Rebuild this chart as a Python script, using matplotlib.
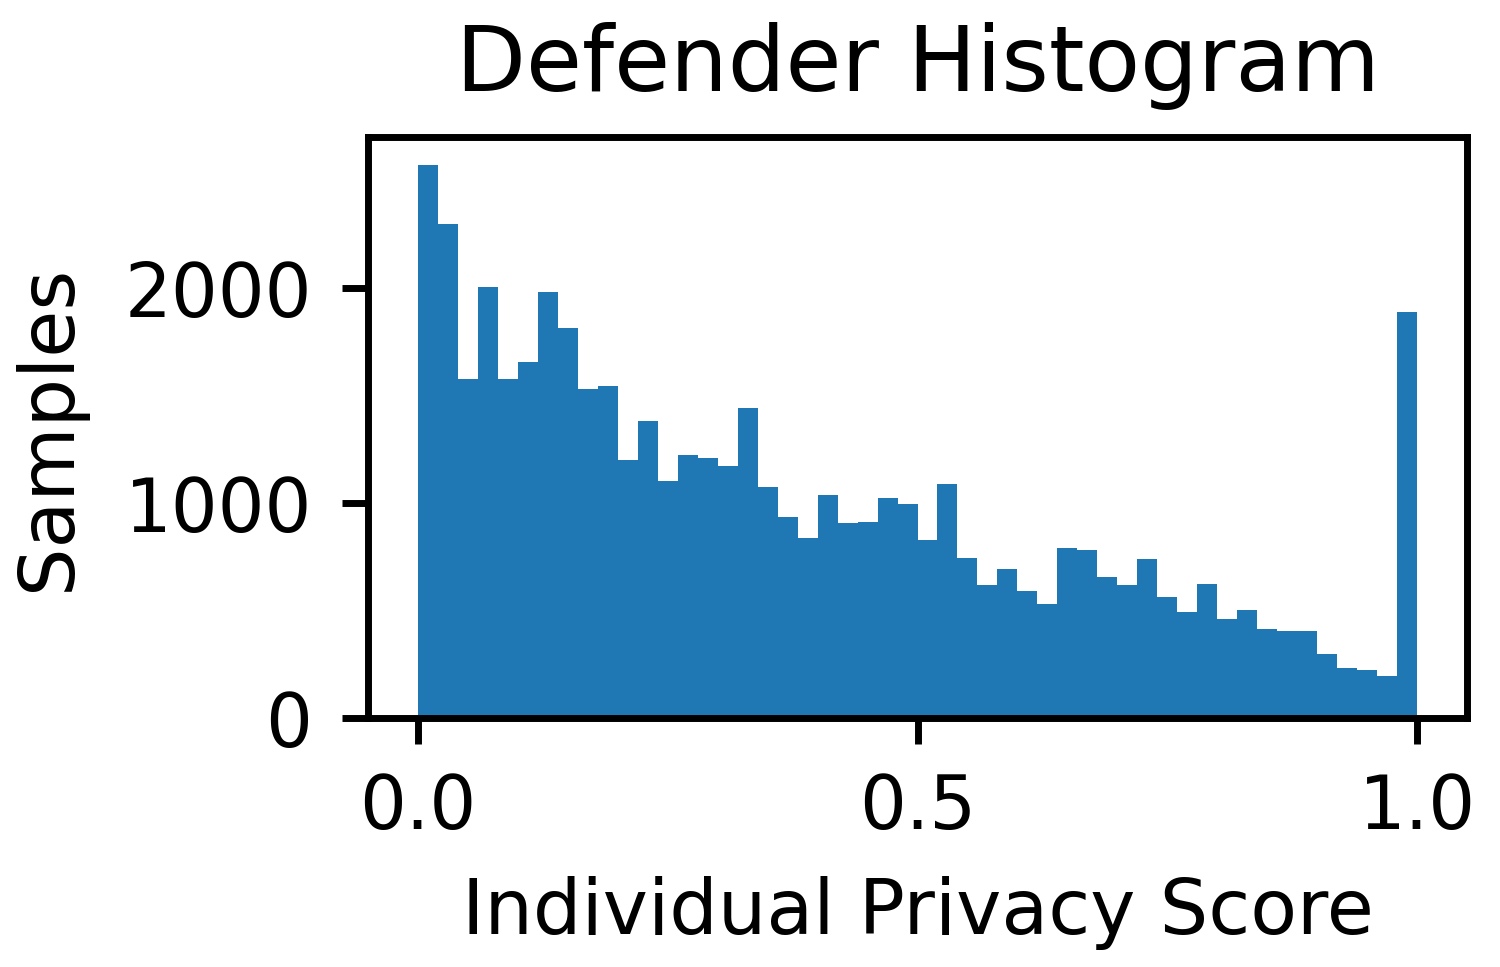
import numpy as np
import matplotlib
matplotlib.use("Agg")
import matplotlib.pyplot as plt

# ── Data (50 bins on [0, 1]) ────────────────────────────────────
counts = [
    2574, 2296, 1575, 2005, 1578, 1658, 1982, 1816, 1529, 1543,
    1199, 1380, 1102, 1222, 1208, 1171, 1440, 1075, 935, 838,
    1038, 907, 912, 1024, 996, 829, 1088, 746, 620, 694,
    593, 528, 792, 783, 654, 620, 740, 565, 491, 625,
    459, 501, 416, 404, 403, 298, 232, 223, 195, 1890,
]
x_lo, x_hi, n_bins = 0.0, 1.0, 50
xticks = [0.0, 0.5, 1.0]
yticks = [0, 1000, 2000]

edges = np.linspace(x_lo, x_hi, n_bins + 1)
centers = (edges[:-1] + edges[1:]) / 2

# ── Plot ─────────────────────────────────────────────────────────
plt.rcParams.update({
    "font.family": "DejaVu Sans",
    "axes.linewidth": 5,
    "xtick.major.width": 5,
    "ytick.major.width": 5,
    "xtick.major.size": 19,
    "ytick.major.size": 19,
    "xtick.major.pad": 20,
    "ytick.major.pad": 21,
})

fig = plt.figure(figsize=(15, 9.67), dpi=100)
ax = fig.add_axes([368 / 1500, 1 - 718 / 967, (1467 - 368) / 1500, (718 - 137) / 967])

ax.hist(centers, bins=edges, weights=counts, color="#1f77b4")

ax.set_xticks(xticks)
ax.set_yticks(yticks)
ax.set_xticklabels([f"{t:.1f}" for t in xticks])
ax.tick_params(labelsize=53)
ax.set_xlabel("Individual Privacy Score", fontsize=55, labelpad=22)
ax.set_ylabel("Samples", fontsize=55, labelpad=28)
ax.set_title("Defender Histogram", fontsize=65.5, pad=33)

fig.savefig("out.png", dpi=100, facecolor="white")
